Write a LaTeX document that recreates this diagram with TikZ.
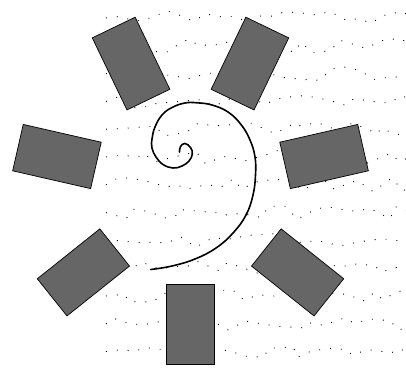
\documentclass[tikz,border=0pt]{standalone}
\usetikzlibrary{decorations.pathmorphing}
\definecolor{boxgray}{HTML}{666666}
\begin{document}
\begin{tikzpicture}[x=1pt,y=-1pt,
  panel/.style={draw=black, line width=0.7pt, fill=boxgray, minimum width=47.6pt, minimum height=80pt, inner sep=0pt, outer sep=0pt},
  dotrow/.style={line width=0.9pt, dash pattern=on 0.9pt off 10pt, decorate, decoration={random steps, segment length=14pt, amplitude=7pt}},
  spiralline/.style={line width=1.6pt, line cap=round}]
\useasboundingbox (0,0) rectangle (406,369);
\pgfmathsetseed{7}
\foreach \i in {0,...,12} {
  \pgfmathsetmacro{\yy}{18+27.8*\i}
  \coordinate (s\i) at (106,\yy);
  \coordinate (e\i) at (412,\yy);
  \draw[dotrow] (s\i) -- (e\i);
}
\foreach \k in {0,...,6} {
  \pgfmathsetmacro{\ang}{\k*360/7}
  \node[panel, rotate=-\ang] (p\k) at ({190.5-137*sin(\ang)},{187+137*cos(\ang)}) {};
}
\draw[spiralline] plot[smooth, tension=0.7] coordinates {
(179.5,152) (180.5,146.5) (185,143.5) (190.5,147.5) (192.3,154) (189,161) (182,166) (173,168) (163,164.5) (156,157) (152,148) (152,139) (155,127) (162,115) (172,107.5) (185,103) (197,102.8) (212,105) (228,112) (241,124.5) (250,140) (255,157) (255.5,175) (253,195) (246,215) (233,233) (216,248) (195,259) (172,266) (150.7,269.5)};
\end{tikzpicture}
\end{document}
